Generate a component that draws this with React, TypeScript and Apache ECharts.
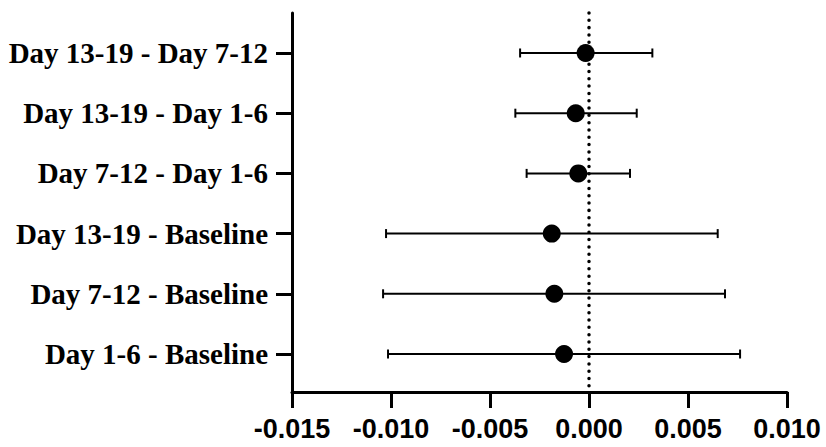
import React, { useEffect, useRef } from "react";
import * as echarts from "echarts";

const categories = [
  "Day 13-19 - Day 7-12",
  "Day 13-19 - Day 1-6",
  "Day 7-12 - Day 1-6",
  "Day 13-19 - Baseline",
  "Day 7-12 - Baseline",
  "Day 1-6 - Baseline",
];
const estimates = [-0.00017, -0.00067, -0.00054, -0.00188, -0.00175, -0.00126];
const lowers = [-0.00348, -0.00372, -0.00315, -0.01025, -0.0104, -0.01015];
const uppers = [0.0032, 0.00241, 0.00207, 0.0065, 0.00687, 0.00763];
const xTicks = [-0.015, -0.01, -0.005, 0, 0.005, 0.01];

export default function App() {
  const ref = useRef<HTMLDivElement>(null);
  useEffect(() => {
    if (!ref.current) return;
    const chart = echarts.init(ref.current, null, { renderer: "svg" });
    const idx = categories.map((_, i) => i);
    chart.setOption({
      animation: false,
      grid: { left: 292, right: 39, top: 13, bottom: 55, containLabel: false },
      xAxis: {
        type: "value",
        min: -0.015,
        max: 0.01,
        interval: 0.005,
        splitLine: { show: false },
        axisLine: { show: true, onZero: false, lineStyle: { color: "#000", width: 3 } },
        axisTick: { show: true, length: 16, lineStyle: { color: "#000", width: 3 } },
        axisLabel: {
          color: "#000",
          fontFamily: "Liberation Sans, Arial, sans-serif",
          fontWeight: "bold",
          fontSize: 27,
          margin: 23,
          formatter: (v: number) => {
            const t = xTicks.find((x) => Math.abs(x - v) < 1e-9);
            return (t !== undefined ? t : v).toFixed(3);
          },
        },
      },
      yAxis: {
        type: "value",
        inverse: true,
        min: -0.664,
        max: 5.631,
        splitLine: { show: false },
        axisLine: { show: true, onZero: false, lineStyle: { color: "#000", width: 3 } },
        axisTick: { show: true, length: 16, customValues: idx, lineStyle: { color: "#000", width: 3 } },
        axisLabel: {
          customValues: idx,
          color: "#000",
          fontFamily: "Liberation Serif, Times New Roman, serif",
          fontWeight: "bold",
          fontSize: 29,
          margin: 24,
          formatter: (v: number) => categories[Math.round(v)] ?? "",
        },
      },
      series: [
        {
          type: "custom",
          data: idx.map((i) => [lowers[i], uppers[i], i]),
          renderItem: (params: any, api: any) => {
            const lo = api.coord([api.value(0), api.value(2)]);
            const hi = api.coord([api.value(1), api.value(2)]);
            const h = 4.5;
            const style = { stroke: "#000", lineWidth: 2 };
            return {
              type: "group",
              children: [
                { type: "line", shape: { x1: lo[0], y1: lo[1], x2: hi[0], y2: hi[1] }, style },
                { type: "line", shape: { x1: lo[0], y1: lo[1] - h, x2: lo[0], y2: lo[1] + h }, style },
                { type: "line", shape: { x1: hi[0], y1: hi[1] - h, x2: hi[0], y2: hi[1] + h }, style },
              ],
            };
          },
          z: 2,
        },
        {
          type: "scatter",
          data: idx.map((i) => [estimates[i], i]),
          symbol: "circle",
          symbolSize: 18,
          itemStyle: { color: "#000", opacity: 1 },
          z: 3,
          markLine: {
            silent: true,
            symbol: "none",
            label: { show: false },
            lineStyle: { color: "#000", width: 3.5, type: [0.01, 7.3], cap: "round", opacity: 1 },
            data: [{ xAxis: 0 }],
          },
        },
      ],
    });
    return () => chart.dispose();
  }, []);
  return <div ref={ref} style={{ width: 826, height: 447, position: "absolute", left: 0, top: 0 }} />;
}
